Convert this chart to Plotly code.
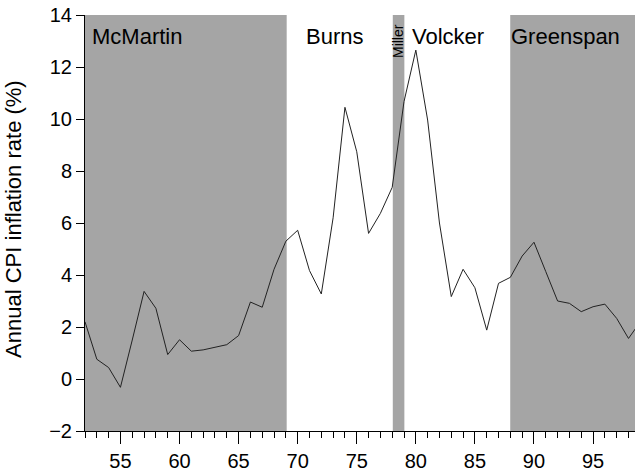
import plotly.graph_objects as go

years = list(range(52, 100))
inflation = [2.2, 0.76, 0.44, -0.32, 1.5, 3.37, 2.72, 0.94, 1.51, 1.07,
             1.12, 1.22, 1.32, 1.67, 2.96, 2.76, 4.22, 5.3, 5.72, 4.17,
             3.27, 6.2, 10.45, 8.74, 5.6, 6.37, 7.37, 10.67, 12.65, 9.96,
             6.0, 3.17, 4.22, 3.51, 1.88, 3.68, 3.91, 4.73, 5.26, 4.13,
             3.0, 2.91, 2.59, 2.78, 2.88, 2.33, 1.56, 2.2]

shaded_chairs = ["McMartin", "Miller", "Greenspan"]
shaded_start = [50, 78.05, 87.99]
shaded_end = [69.07, 79.03, 100]

chair_labels = ["McMartin", "Burns", "Volcker", "Greenspan"]
chair_label_x = [52.46, 70.51, 79.48, 87.89]

x_range = [52, 98.55]
y_range = [-2, 14]
x_ticks = [55, 60, 65, 70, 75, 80, 85, 90, 95]
y_ticks = [-2, 0, 2, 4, 6, 8, 10, 12, 14]

FONT = "Liberation Sans, Arial, sans-serif"
SHADE = "#a5a5a5"

fig = go.Figure()
fig.add_trace(go.Scatter(x=years, y=inflation, mode="lines",
                         line=dict(color="#222222", width=1),
                         showlegend=False, hoverinfo="skip"))

for s, e in zip(shaded_start, shaded_end):
    fig.add_shape(type="rect", xref="x", yref="y", x0=s, x1=e,
                  y0=y_range[0], y1=y_range[1],
                  fillcolor=SHADE, line=dict(width=0), layer="below")

for name, xl in zip(chair_labels, chair_label_x):
    fig.add_annotation(x=xl, y=13.17, xref="x", yref="y", text=name,
                       showarrow=False, xanchor="left", yanchor="middle",
                       font=dict(family=FONT, size=22, color="black"))

fig.add_annotation(x=78.45, y=12.98, xref="x", yref="y", text="Miller",
                   showarrow=False, textangle=-90, xanchor="center",
                   yanchor="middle", font=dict(family=FONT, size=14, color="black"))

fig.add_annotation(x=-0.129, y=0.51, xref="paper", yref="paper",
                   text="Annual CPI inflation rate (%)", showarrow=False,
                   textangle=-90, xanchor="center", yanchor="middle",
                   font=dict(family=FONT, size=22, color="black"))

fig.update_layout(
    width=635, height=472,
    margin=dict(l=85, r=0, t=15, b=41),
    paper_bgcolor="white", plot_bgcolor="white",
    font=dict(family=FONT, size=20, color="black"),
    showlegend=False,
)
fig.update_xaxes(range=x_range, tickvals=x_ticks, ticks="outside", ticklen=12,
                 tickwidth=1, tickcolor="black", showline=True, linecolor="black",
                 linewidth=1, showgrid=False, zeroline=False,
                 tickfont=dict(family=FONT, size=20),
                 minor=dict(dtick=1, tick0=0, ticks="outside", ticklen=6,
                            tickcolor="black", tickwidth=1, showgrid=False))
fig.update_yaxes(range=y_range, tickvals=y_ticks,
                 ticktext=[str(v).replace("-", "\u2212") for v in y_ticks],
                 ticks="outside", ticklen=8, tickwidth=1, tickcolor="black",
                 showline=True, linecolor="black", linewidth=1, showgrid=False,
                 zeroline=False, tickfont=dict(family=FONT, size=20))

fig.write_html("out.html", config={"displayModeBar": False},
               post_script="document.body.style.margin='0';document.body.style.padding='0';")
